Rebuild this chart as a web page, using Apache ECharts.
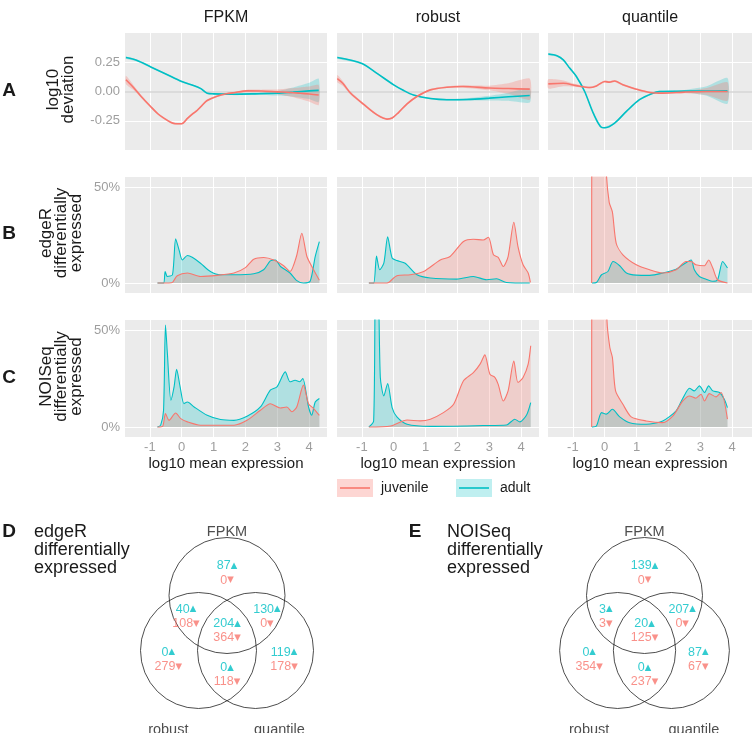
<!DOCTYPE html>
<html>
<head>
<meta charset="utf-8">
<script src="https://cdn.jsdelivr.net/npm/echarts@6/dist/echarts.min.js"></script>
<style>
  html, body { margin: 0; padding: 0; background: #fff; }
  #chart { width: 752px; height: 733px; }
</style>
</head>
<body>
<div id="chart"></div>
<script>
// panel titles / row titles
const methods = ['FPKM', 'robust', 'quantile']
const rowTitles = ['log10\ndeviation', 'edgeR\ndifferentially\nexpressed', 'NOISeq\ndifferentially\nexpressed']
const rowLetters = ['A', 'B', 'C']
const groups = ['juvenile', 'adult']

// row A: [log10 mean expression, log10 deviation, half width of band]
const devFpkmJuv = [[-1.75, 0.10, 0.035], [-1.5, 0.03, 0.02], [-1.28, -0.04, 0.012], [-0.97, -0.13, 0.01], [-0.75, -0.19, 0.008], [-0.55, -0.23, 0.008], [-0.35, -0.262, 0.008], [-0.2, -0.275, 0.008], [0.0, -0.275, 0.008], [0.18, -0.23, 0.008], [0.35, -0.19, 0.008], [0.49, -0.16, 0.008], [0.65, -0.115, 0.008], [0.8, -0.077, 0.008], [1.11, -0.04, 0.008], [1.4, -0.02, 0.008], [1.64, -0.01, 0.008], [2.05, 0.005, 0.01], [2.5, 0.004, 0.012], [3.0, -0.003, 0.02], [3.4, -0.008, 0.035], [3.72, -0.015, 0.05], [4.0, -0.022, 0.065], [4.3, -0.03, 0.085]]
const devFpkmAdult = [[-1.75, 0.29, 0.01], [-1.4, 0.265, 0.008], [-0.97, 0.21, 0.006], [-0.5, 0.15, 0.006], [0, 0.085, 0.006], [0.39, 0.05, 0.006], [0.6, 0.025, 0.006], [0.8, -0.015, 0.006], [1.0, -0.02, 0.006], [1.64, -0.023, 0.008], [2.3, -0.02, 0.01], [3.0, -0.015, 0.02], [3.5, -0.005, 0.04], [4.0, 0.005, 0.07], [4.3, 0.01, 0.1]]
const devRobJuv = [[-1.77, 0.11, 0.03], [-1.6, 0.07, 0.02], [-1.35, -0.015, 0.012], [-0.94, -0.11, 0.01], [-0.52, -0.2, 0.008], [-0.21, -0.236, 0.008], [-0.05, -0.227, 0.008], [0.15, -0.18, 0.008], [0.42, -0.105, 0.008], [0.73, -0.043, 0.008], [1.15, 0.014, 0.008], [1.67, 0.037, 0.008], [2.19, 0.043, 0.01], [3.0, 0.03, 0.02], [3.6, 0.025, 0.045], [4.27, 0.02, 0.09]]
const devRobAdult = [[-1.77, 0.29, 0.01], [-1.0, 0.24, 0.006], [-0.5, 0.15, 0.006], [0, 0.057, 0.006], [0.3, 0.01, 0.006], [0.62, -0.03, 0.006], [1.15, -0.06, 0.006], [1.67, -0.07, 0.008], [2.3, -0.068, 0.01], [3.0, -0.057, 0.02], [3.6, -0.045, 0.035], [4.27, -0.034, 0.06]]
const devQuaJuv = [[-1.77, 0.065, 0.04], [-1.3, 0.07, 0.025], [-0.89, 0.05, 0.012], [-0.47, 0.034, 0.008], [-0.26, 0.048, 0.008], [0, 0.085, 0.008], [0.15, 0.08, 0.008], [0.31, 0.09, 0.008], [0.57, 0.057, 0.008], [0.99, 0.02, 0.008], [1.41, -0.008, 0.008], [1.82, -0.014, 0.008], [2.5, -0.005, 0.01], [3.2, 0, 0.03], [3.85, 0, 0.08]]
const devQuaAdult = [[-1.77, 0.32, 0.01], [-1.5, 0.305, 0.008], [-1.3, 0.27, 0.008], [-1.1, 0.2, 0.008], [-0.89, 0.128, 0.008], [-0.63, 0, 0.008], [-0.36, -0.185, 0.008], [-0.1, -0.307, 0.008], [0, -0.31, 0.008], [0.31, -0.27, 0.008], [0.68, -0.17, 0.008], [1.09, -0.07, 0.008], [1.51, -0.014, 0.008], [1.72, 0, 0.008], [2.5, 0.003, 0.01], [3.2, 0.004, 0.04], [3.85, 0.005, 0.11]]

// row B: edgeR % differentially expressed
const edgeFpkmJuv = [[-0.76, 0], [-0.4, 0], [-0.29, 0.3], [-0.14, 3.8], [0.18, 5.2], [0.59, 3.4], [1.11, 4], [1.64, 5.2], [2.0, 8], [2.26, 12.4], [2.57, 13.3], [2.89, 12], [3.2, 9], [3.4, 6], [3.6, 13.8], [3.77, 25.9], [3.93, 13.8], [4.14, 6.9], [4.32, 1.4]]
const edgeFpkmAdult = [[-0.76, 0], [-0.57, 0], [-0.52, 6], [-0.45, 3.4], [-0.29, 4.3], [-0.19, 23], [-0.08, 17], [0.02, 12], [0.18, 14.3], [0.33, 13.4], [0.59, 10.3], [0.9, 6], [1.22, 4.3], [1.64, 4.3], [2.26, 4.8], [2.57, 6.9], [2.78, 11.5], [2.94, 12], [3.1, 8.6], [3.4, 5.2], [3.6, 1.4], [3.82, 0], [4.03, 0.9], [4.19, 13.8], [4.32, 21.6]]
const edgeRobJuv = [[-0.78, 0], [-0.3, 0], [-0.16, 0.3], [0.1, 3.8], [0.52, 4.3], [0.94, 6], [1.46, 12], [1.77, 13.8], [2.19, 21.6], [2.5, 22.8], [2.81, 22.4], [2.97, 23.8], [3.13, 14.7], [3.28, 13.4], [3.44, 8.6], [3.59, 13.8], [3.77, 31.6], [3.9, 19], [4.06, 9.5], [4.22, 5.2], [4.29, 0.3]]
const edgeRobAdult = [[-0.78, 0], [-0.63, 0], [-0.54, 14], [-0.44, 6.9], [-0.31, 10.3], [-0.19, 24], [-0.05, 13], [0.1, 11.7], [0.36, 10.3], [0.73, 4.3], [1.15, 2.6], [1.98, 2], [2.5, 3.4], [2.92, 1.7], [3.23, 2.2], [3.54, 0.3], [4.27, 0]]
const edgeQuaJuv = [[-0.41, 0], [-0.4, 100], [0.02, 100], [0.05, 58], [0.14, 42], [0.24, 37], [0.36, 20.7], [0.57, 14.7], [0.99, 9.5], [1.41, 6.9], [1.82, 5.2], [2.24, 6.9], [2.55, 11.2], [2.71, 11.2], [2.86, 9.5], [3.13, 9], [3.26, 12], [3.39, 7.8], [3.54, 1.7], [3.85, 0]]
const edgeQuaAdult = [[-0.4, 0], [-0.26, 0.3], [-0.1, 4.3], [0.1, 6], [0.26, 11.2], [0.47, 9], [0.68, 5.2], [0.99, 4.1], [1.41, 4], [1.82, 5.2], [2.24, 7.2], [2.45, 9.5], [2.71, 12], [2.81, 6.9], [2.97, 3.4], [3.18, 2], [3.39, 0.9], [3.54, 1.7], [3.7, 11.2], [3.85, 7.8]]

// row C: NOISeq % differentially expressed
const noiFpkmJuv = [[-0.76, 0], [-0.6, 0.3], [-0.51, 6.9], [-0.4, 3.4], [-0.19, 7.2], [-0.03, 4.3], [0.18, 2.6], [0.59, 0.9], [1.64, 0.9], [2.05, 3.4], [2.47, 8.6], [2.78, 12], [3.09, 9.8], [3.3, 10.3], [3.46, 7.8], [3.61, 10.3], [3.82, 21.6], [3.98, 12], [4.14, 9.5], [4.32, 6]]
const noiFpkmAdult = [[-0.76, 0], [-0.66, 0.9], [-0.57, 8.6], [-0.51, 52.6], [-0.45, 38], [-0.34, 13.8], [-0.24, 20.7], [-0.16, 29.7], [-0.05, 20.7], [0.07, 12], [0.18, 12.9], [0.39, 10.3], [0.8, 6], [1.22, 3.8], [1.64, 3.4], [2.05, 5.5], [2.47, 10.3], [2.78, 19], [2.99, 20.7], [3.25, 28.4], [3.4, 23.3], [3.56, 24.1], [3.7, 23.3], [3.8, 25], [3.98, 10.3], [4.08, 6], [4.19, 12.9], [4.32, 14.7]]
const noiRobJuv = [[-0.78, 0], [-0.1, 0.5], [0.42, 3.6], [0.83, 3.1], [1.15, 4], [1.56, 7.4], [1.88, 11.7], [2.19, 23.8], [2.5, 28], [2.71, 32.4], [2.86, 37.2], [3.02, 27.2], [3.18, 25.5], [3.28, 22], [3.44, 13.4], [3.59, 18.6], [3.77, 34], [3.9, 22.9], [4.06, 25.5], [4.22, 32.4], [4.3, 41.9]]
const noiRobAdult = [[-0.78, 0], [-0.63, 3.1], [-0.57, 80], [-0.5, 80], [-0.42, 25.5], [-0.31, 16], [-0.19, 22.4], [-0.05, 10], [0.1, 5.2], [0.42, 1.4], [1.15, 0.3], [2.81, 0.7], [3.54, 1], [3.8, 4], [3.96, 2.6], [4.17, 6.2], [4.3, 12.6]]
const noiQuaJuv = [[-0.41, 0], [-0.4, 100], [0.04, 100], [0.07, 55], [0.16, 41], [0.24, 35.9], [0.34, 18.6], [0.57, 11.7], [0.83, 5.2], [1.3, 3.1], [1.82, 2.2], [2.14, 5.7], [2.45, 13.4], [2.66, 16], [2.86, 14.8], [3.02, 16.9], [3.13, 13.4], [3.28, 17.2], [3.49, 15.5], [3.65, 17.8], [3.85, 4]]
const noiQuaAdult = [[-0.4, 0], [-0.26, 0.5], [-0.1, 7.4], [0.05, 6.6], [0.24, 9.1], [0.47, 5.2], [0.78, 2.2], [1.3, 1.4], [1.82, 3.1], [2.24, 8.3], [2.45, 14.8], [2.66, 20], [2.81, 18.6], [2.97, 21.2], [3.13, 17.8], [3.26, 21.2], [3.39, 18.6], [3.6, 17.8], [3.75, 14.3], [3.85, 10]]

const xTicks = [-1, 0, 1, 2, 3, 4]
const devTicks = [-0.25, 0, 0.25]
const pctTicks = [0, 50]

// venn diagrams: regions FPKM, FPKM&robust, FPKM&quantile, all, robust, quantile, robust&quantile
const edgeUp = [87, 40, 130, 204, 0, 119, 0]
const edgeDown = [0, 108, 0, 364, 279, 178, 118]
const noiUp = [139, 3, 207, 20, 0, 87, 0]
const noiDown = [0, 3, 0, 125, 354, 67, 237]

// layout (not data)
const vennCenters = [[0, 0.5], [-0.5, -0.5], [0.5, -0.5]]
const regionPos = [[0, 0.91], [-0.72, 0.12], [0.7, 0.12], [0, -0.14], [-1.03, -0.66], [1.0, -0.66], [0, -0.94]]
const setLabelPos = [[0, 1.65], [-1.03, -1.95], [0.92, -1.95]]

const RED = '#F8766D'
const TEAL = '#00BFC4'
const RED_FILL = 'rgba(248,118,109,0.25)'
const TEAL_FILL = 'rgba(0,191,196,0.25)'
const FONT = 'Liberation Sans, Arial, sans-serif'
const TICK_COLOR = '#9e9e9e'

const colLeft = [125, 337, 548]
const colWidth = [202, 202, 204]
const rowTop = [33, 177, 320]
const rowHeight = [117, 116, 117]
const xMin = -1.78
const xMax = [4.56, 4.56, 4.62]

const devData = [[devFpkmJuv, devFpkmAdult], [devRobJuv, devRobAdult], [devQuaJuv, devQuaAdult]]
const pctData = [
  [[edgeFpkmJuv, edgeFpkmAdult], [edgeRobJuv, edgeRobAdult], [edgeQuaJuv, edgeQuaAdult]],
  [[noiFpkmJuv, noiFpkmAdult], [noiRobJuv, noiRobAdult], [noiQuaJuv, noiQuaAdult]]
]

const chart = echarts.init(document.getElementById('chart'))

const grid = []
const xAxis = []
const yAxis = []
const series = []

// confidence band as one polygon, drawn through the axes
function bandSeries(gi, curve, fill) {
  return {
    type: 'custom', xAxisIndex: gi, yAxisIndex: gi, silent: true, z: 2,
    data: curve.map(p => [p[0], p[1]]), encode: { x: 0, y: 1 },
    renderItem: (params, api) => {
      if (params.dataIndex !== 0) return
      const upper = curve.map(p => api.coord([p[0], p[1] + p[2]]))
      const lower = curve.map(p => api.coord([p[0], p[1] - p[2]])).reverse()
      return { type: 'polygon', shape: { points: upper.concat(lower), smooth: 0.2 }, style: { fill } }
    }
  }
}

for (let r = 0; r < 3; r++) {
  for (let c = 0; c < 3; c++) {
    const gi = r * 3 + c
    grid.push({
      left: colLeft[c], top: rowTop[r], width: colWidth[c], height: rowHeight[r],
      show: true, backgroundColor: '#EBEBEB', borderWidth: 0
    })
    xAxis.push({
      type: 'value', gridIndex: gi, min: xMin, max: xMax[c],
      axisLine: { show: false }, axisTick: { show: false },
      splitLine: { show: false },
      axisLabel: { show: false },
      name: r === 2 ? 'log10 mean expression' : '',
      nameLocation: 'middle', nameGap: 19,
      nameTextStyle: { fontSize: 15, color: '#1a1a1a', fontFamily: FONT }
    })
    if (r === 0) {
      yAxis.push({
        type: 'value', gridIndex: gi, min: -0.5, max: 0.5, interval: 0.25,
        axisLine: { show: false }, axisTick: { show: false },
        splitLine: { show: false },
        axisLabel: { show: false }
      })
    } else {
      yAxis.push({
        type: 'value', gridIndex: gi, min: -5.2, max: 55.2,
        axisLine: { show: false }, axisTick: { show: false },
        splitLine: { show: false }, axisLabel: { show: false }
      })
    }

    // grid lines + tick labels drawn as mark lines on a helper series
    const yMarks = (r === 0 ? devTicks : pctTicks).map(v => ({
      yAxis: v,
      lineStyle: { color: (r === 0 && v === 0) ? '#d6d6d6' : '#ffffff', width: (r === 0 && v === 0) ? 1.5 : 1.1, type: 'solid' },
      label: {
        show: c === 0, position: 'start', distance: 5,
        formatter: r === 0 ? v.toFixed(2) : v + '%',
        color: TICK_COLOR, fontSize: 13, fontFamily: FONT
      }
    }))
    const xMarks = xTicks.map(v => ({
      xAxis: v,
      lineStyle: { color: '#ffffff', width: 1.1, type: 'solid' },
      label: {
        show: r === 2, position: 'start', distance: 4,
        formatter: String(v),
        color: TICK_COLOR, fontSize: 13, fontFamily: FONT
      }
    }))
    series.push({
      type: 'line', xAxisIndex: gi, yAxisIndex: gi, data: [], silent: true,
      markLine: { silent: true, symbol: 'none', z: 1, animation: false, data: xMarks.concat(yMarks) }
    })

    if (r === 0) {
      // adult first, juvenile on top
      [1, 0].forEach(k => {
        const curve = devData[c][k]
        const col = k === 0 ? RED : TEAL
        const fill = k === 0 ? 'rgba(248,118,109,0.3)' : 'rgba(0,191,196,0.25)'
        series.push(bandSeries(gi, curve, fill))
      });
      [1, 0].forEach(k => {
        const curve = devData[c][k]
        const col = k === 0 ? RED : TEAL
        series.push({
          name: groups[k], type: 'line', xAxisIndex: gi, yAxisIndex: gi,
          data: curve.map(p => [p[0], p[1]]),
          showSymbol: false, smooth: 0.3,
          lineStyle: { color: col, width: 1.6 }, itemStyle: { color: col }, z: 3
        })
      })
    } else {
      [1, 0].forEach(k => {
        const curve = pctData[r - 1][c][k]
        const col = k === 0 ? RED : TEAL
        series.push({
          name: groups[k], type: 'line', xAxisIndex: gi, yAxisIndex: gi,
          data: curve, showSymbol: false, smooth: 0.25, clip: true,
          lineStyle: { color: col, width: 1.1 }, itemStyle: { color: col },
          areaStyle: { color: k === 0 ? RED_FILL : TEAL_FILL, opacity: 1 }, z: 3
        })
      })
    }
  }
}

// venn grids
const vennLeft = [113, 537]
const vennSets = [[edgeUp, edgeDown], [noiUp, noiDown]]
vennLeft.forEach((left, v) => {
  const gi = grid.length
  grid.push({ left, top: 513, width: 228, height: 228, show: false })
  xAxis.push({ type: 'value', gridIndex: gi, min: -2, max: 2, show: false })
  yAxis.push({ type: 'value', gridIndex: gi, min: -2, max: 2, show: false })
  series.push({
    type: 'scatter', xAxisIndex: gi, yAxisIndex: gi, silent: true,
    data: vennCenters, symbol: 'circle', symbolSize: 116,
    itemStyle: { color: 'rgba(0,0,0,0)', borderColor: '#222', borderWidth: 1 }
  })
  series.push({
    type: 'scatter', xAxisIndex: gi, yAxisIndex: gi, silent: true,
    data: regionPos.map((p, i) => ({ value: p, up: vennSets[v][0][i], down: vennSets[v][1][i] })),
    symbolSize: 1, itemStyle: { color: 'rgba(0,0,0,0)' },
    label: {
      show: true, position: 'inside', fontFamily: FONT,
      formatter: p => '{u|' + p.data.up + '}{ut|▲}\n{d|' + p.data.down + '}{dt|▼}',
      rich: {
        u: { color: TEAL, fontSize: 12.5, lineHeight: 14.5, fontFamily: FONT },
        ut: { color: TEAL, fontSize: 8.5, lineHeight: 14.5, fontFamily: 'DejaVu Sans' },
        d: { color: RED, fontSize: 12.5, lineHeight: 14.5, fontFamily: FONT },
        dt: { color: RED, fontSize: 8.5, lineHeight: 14.5, fontFamily: 'DejaVu Sans' }
      }
    }
  })
  series.push({
    type: 'scatter', xAxisIndex: gi, yAxisIndex: gi, silent: true,
    data: setLabelPos.map((p, i) => ({ value: p, name: methods[i] })),
    symbolSize: 1, itemStyle: { color: 'rgba(0,0,0,0)' },
    label: { show: true, position: 'inside', formatter: '{b}', color: '#222', fontSize: 14.5, fontFamily: FONT }
  })
})

const graphic = []
// strip titles
methods.forEach((m, c) => {
  graphic.push({
    type: 'text', x: colLeft[c] + colWidth[c] / 2, y: 18,
    style: { text: m, fill: '#1a1a1a', font: '16px ' + FONT, align: 'center', verticalAlign: 'middle' }
  })
})
// row letters and titles
rowLetters.forEach((l, r) => {
  const cy = rowTop[r] + rowHeight[r] / 2
  graphic.push({
    type: 'text', x: 9, y: cy - 1,
    style: { text: l, fill: '#1a1a1a', font: 'bold 19px ' + FONT, align: 'center', verticalAlign: 'middle' }
  })
  graphic.push({
    type: 'text', x: 61, y: cy - 2, rotation: Math.PI / 2,
    style: { text: rowTitles[r], fill: '#1a1a1a', font: '17px ' + FONT, lineHeight: 15, align: 'center', verticalAlign: 'middle' }
  })
})
// legend
const legendX = [337, 456]
groups.forEach((g, k) => {
  const x = legendX[k]
  graphic.push({ type: 'rect', shape: { x, y: 479, width: 36, height: 18 }, style: { fill: k === 0 ? 'rgba(248,118,109,0.3)' : 'rgba(0,191,196,0.25)' } })
  graphic.push({ type: 'line', shape: { x1: x + 3, y1: 488, x2: x + 33, y2: 488 }, style: { stroke: k === 0 ? RED : TEAL, lineWidth: 1.6 } })
  graphic.push({
    type: 'text', x: x + 44, y: 488,
    style: { text: g, fill: '#1a1a1a', font: '14px ' + FONT, verticalAlign: 'middle' }
  })
})
// venn panel titles
const vennTitles = [['D', 9, 'edgeR\ndifferentially\nexpressed', 34], ['E', 415, 'NOISeq\ndifferentially\nexpressed', 447]]
vennTitles.forEach(t => {
  graphic.push({
    type: 'text', x: t[1], y: 532,
    style: { text: t[0], fill: '#1a1a1a', font: 'bold 19px ' + FONT, align: 'center', verticalAlign: 'middle' }
  })
  graphic.push({
    type: 'text', x: t[3], y: 523,
    style: { text: t[2], fill: '#1a1a1a', font: '18px ' + FONT, lineHeight: 18, verticalAlign: 'top' }
  })
})

chart.setOption({
  animation: false,
  backgroundColor: '#ffffff',
  textStyle: { fontFamily: FONT },
  grid, xAxis, yAxis, series, graphic
})
</script>
</body>
</html>
